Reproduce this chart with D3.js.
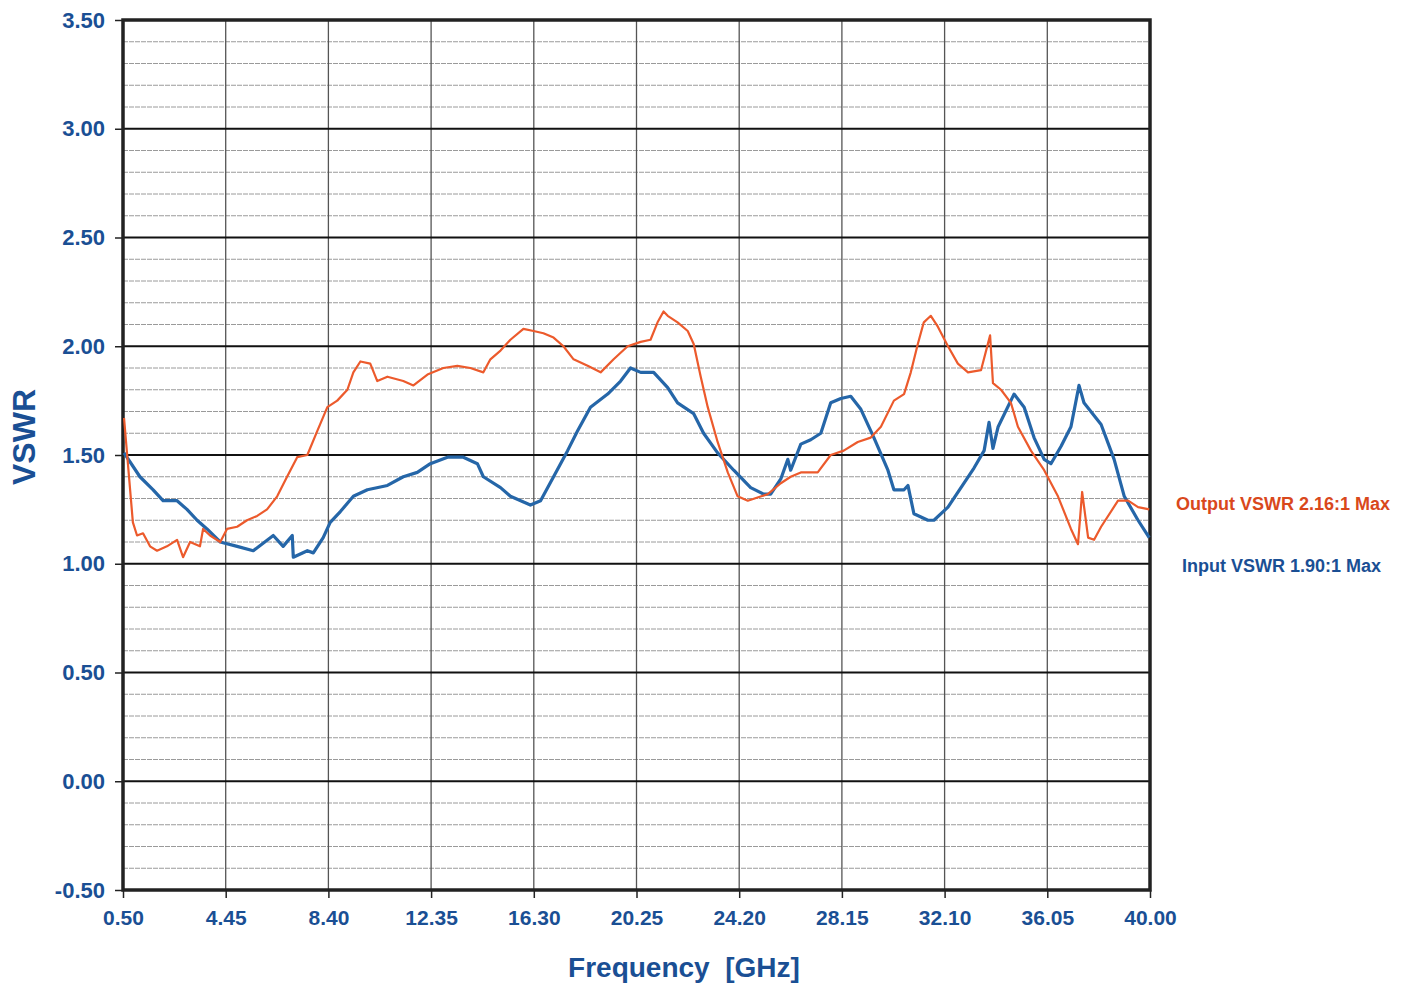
<!DOCTYPE html>
<html>
<head>
<meta charset="utf-8">
<script src="https://cdn.jsdelivr.net/npm/d3@7"></script>
<style>
  body { margin: 0; background: #fff; }
  text { font-family: "Liberation Sans", Arial, sans-serif; font-weight: bold; }
</style>
</head>
<body>
<div class="chart"></div>
<script>
// x tick labels (GHz) and y ticks
const xTicks = [0.5, 4.45, 8.4, 12.35, 16.3, 20.25, 24.2, 28.15, 32.1, 36.05, 40.0];
const yTicks = [-0.5, 0, 0.5, 1.0, 1.5, 2.0, 2.5, 3.0, 3.5];

// Input VSWR (blue)
const inputFreq = [0.54, 1.15, 1.66, 2.04, 2.58, 2.96, 3.35, 3.73, 4.24, 4.89, 5.51, 6.28, 6.66, 7.01, 7.05, 7.59, 7.82, 8.20, 8.47, 8.86, 9.36, 9.90, 10.67, 11.28, 11.82, 12.32, 12.98, 13.59, 14.13, 14.36, 15.02, 15.40, 16.17, 16.56, 17.06, 17.60, 17.98, 18.48, 19.14, 19.64, 20.02, 20.41, 20.91, 21.45, 21.83, 22.45, 22.83, 23.37, 23.99, 24.64, 25.14, 25.41, 25.80, 26.07, 26.18, 26.57, 26.95, 27.34, 27.72, 28.11, 28.49, 28.88, 29.38, 29.92, 30.15, 30.54, 30.69, 30.92, 31.46, 31.69, 32.23, 32.73, 33.23, 33.62, 33.81, 33.96, 34.16, 34.77, 35.16, 35.54, 35.93, 36.19, 36.58, 36.96, 37.27, 37.46, 38.12, 38.62, 39.01, 39.54, 39.97];
const inputVswr = [1.51, 1.40, 1.34, 1.29, 1.29, 1.25, 1.20, 1.16, 1.10, 1.08, 1.06, 1.13, 1.08, 1.13, 1.03, 1.06, 1.05, 1.12, 1.19, 1.24, 1.31, 1.34, 1.36, 1.40, 1.42, 1.46, 1.49, 1.49, 1.46, 1.40, 1.35, 1.31, 1.27, 1.29, 1.40, 1.52, 1.61, 1.72, 1.78, 1.84, 1.90, 1.88, 1.88, 1.81, 1.74, 1.69, 1.60, 1.51, 1.43, 1.35, 1.32, 1.32, 1.39, 1.48, 1.43, 1.55, 1.57, 1.60, 1.74, 1.76, 1.77, 1.71, 1.58, 1.43, 1.34, 1.34, 1.36, 1.23, 1.20, 1.20, 1.26, 1.35, 1.44, 1.52, 1.65, 1.53, 1.63, 1.78, 1.72, 1.58, 1.48, 1.46, 1.54, 1.63, 1.82, 1.74, 1.64, 1.48, 1.31, 1.20, 1.12];

// Output VSWR (orange)
const outputFreq = [0.54, 0.88, 1.04, 1.27, 1.54, 1.81, 2.19, 2.58, 2.81, 3.08, 3.46, 3.58, 3.85, 4.24, 4.50, 4.89, 5.27, 5.66, 6.04, 6.43, 6.81, 7.20, 7.59, 7.97, 8.36, 8.74, 9.13, 9.36, 9.63, 10.01, 10.28, 10.67, 11.28, 11.67, 12.21, 12.82, 13.36, 13.86, 14.36, 14.63, 15.02, 15.40, 15.90, 16.29, 16.67, 17.06, 17.44, 17.83, 18.37, 18.87, 19.37, 19.91, 20.41, 20.79, 21.06, 21.29, 21.45, 21.83, 22.22, 22.45, 22.72, 22.99, 23.37, 23.76, 24.14, 24.53, 25.30, 25.80, 26.18, 26.57, 27.22, 27.72, 28.22, 28.76, 29.26, 29.65, 30.15, 30.54, 30.80, 31.07, 31.30, 31.57, 31.84, 32.23, 32.61, 33.00, 33.50, 33.85, 33.96, 34.27, 34.65, 34.92, 35.42, 35.93, 36.46, 36.96, 37.23, 37.39, 37.62, 37.85, 38.12, 38.77, 39.16, 39.54, 39.97];
const outputVswr = [1.67, 1.19, 1.13, 1.14, 1.08, 1.06, 1.08, 1.11, 1.03, 1.10, 1.08, 1.16, 1.13, 1.10, 1.16, 1.17, 1.20, 1.22, 1.25, 1.31, 1.40, 1.49, 1.50, 1.61, 1.72, 1.75, 1.80, 1.88, 1.93, 1.92, 1.84, 1.86, 1.84, 1.82, 1.87, 1.90, 1.91, 1.90, 1.88, 1.94, 1.98, 2.03, 2.08, 2.07, 2.06, 2.04, 2.00, 1.94, 1.91, 1.88, 1.94, 2.00, 2.02, 2.03, 2.11, 2.16, 2.14, 2.11, 2.07, 2.01, 1.86, 1.72, 1.56, 1.42, 1.31, 1.29, 1.32, 1.37, 1.40, 1.42, 1.42, 1.50, 1.52, 1.56, 1.58, 1.63, 1.75, 1.78, 1.88, 2.01, 2.11, 2.14, 2.09, 2.00, 1.92, 1.88, 1.89, 2.05, 1.83, 1.80, 1.74, 1.63, 1.52, 1.43, 1.31, 1.16, 1.09, 1.33, 1.12, 1.11, 1.17, 1.29, 1.29, 1.26, 1.25];

const seriesNames = ['Output VSWR 2.16:1 Max', 'Input VSWR 1.90:1 Max'];

const w = 1411, h = 985;
const padLeft = 123, padRight = 1150, padTop = 20, padBottom = 890;

const xScale = d3.scaleLinear().domain([0.5, 40]).range([padLeft, padRight]);
const yScale = d3.scaleLinear().domain([-0.5, 3.5]).range([padBottom, padTop]);

const svg = d3.select('div.chart')
  .append('svg')
  .attr('width', w)
  .attr('height', h);

// minor horizontal grid every 0.1
const minor = d3.range(-4, 35).map(i => i / 10)
  .filter(v => Math.round(v * 10) % 5 !== 0);
svg.append('g')
  .selectAll('line')
  .data(minor)
  .enter()
  .append('line')
  .attr('x1', padLeft).attr('x2', padRight)
  .attr('y1', d => yScale(d)).attr('y2', d => yScale(d))
  .attr('stroke', '#9a9a9a')
  .attr('stroke-width', 1)
  .attr('stroke-dasharray', '5,1');

// vertical grid at ticks
svg.append('g')
  .selectAll('line')
  .data(xTicks)
  .enter()
  .append('line')
  .attr('x1', d => xScale(d)).attr('x2', d => xScale(d))
  .attr('y1', padTop).attr('y2', padBottom)
  .attr('stroke', '#555')
  .attr('stroke-width', 1.3);

// major horizontal grid
svg.append('g')
  .selectAll('line')
  .data(yTicks)
  .enter()
  .append('line')
  .attr('x1', padLeft).attr('x2', padRight)
  .attr('y1', d => yScale(d)).attr('y2', d => yScale(d))
  .attr('stroke', '#111')
  .attr('stroke-width', 2);

// frame
svg.append('rect')
  .attr('x', padLeft).attr('y', padTop)
  .attr('width', padRight - padLeft).attr('height', padBottom - padTop)
  .attr('fill', 'none')
  .attr('stroke', '#222')
  .attr('stroke-width', 3.5);

// axes
const fmt = d => d.toFixed(2);
const xAxis = d3.axisBottom(xScale)
  .tickValues(xTicks)
  .tickSize(8)
  .tickFormat(fmt);
const gx = svg.append('g')
  .attr('transform', 'translate(0,' + padBottom + ')')
  .call(xAxis);
gx.select('.domain').remove();
gx.selectAll('line').attr('stroke', '#222').attr('stroke-width', 1.5);
gx.selectAll('text')
  .attr('dy', '1.15em')
  .attr('fill', '#1a4f94')
  .style('font-size', '21px');

const yAxis = d3.axisLeft(yScale)
  .tickValues(yTicks)
  .tickSize(8)
  .tickFormat(fmt);
const gy = svg.append('g')
  .attr('transform', 'translate(' + padLeft + ',0)')
  .call(yAxis);
gy.select('.domain').remove();
gy.selectAll('line').attr('stroke', '#222').attr('stroke-width', 1.5);
gy.selectAll('text')
  .attr('x', -18)
  .attr('fill', '#1a4f94')
  .style('font-size', '22px');

const line = d3.line()
  .x(d => xScale(d[0]))
  .y(d => yScale(d[1]));

svg.append('path')
  .datum(d3.zip(inputFreq, inputVswr))
  .attr('fill', 'none')
  .attr('stroke', '#2566a8')
  .attr('stroke-width', 3.2)
  .attr('stroke-linejoin', 'round')
  .attr('d', line);

svg.append('path')
  .datum(d3.zip(outputFreq, outputVswr))
  .attr('fill', 'none')
  .attr('stroke', '#ec5a2c')
  .attr('stroke-width', 2.2)
  .attr('stroke-linejoin', 'round')
  .attr('d', line);

// series labels at right
svg.append('text')
  .attr('x', 1176).attr('y', 510)
  .attr('fill', '#d9481c')
  .style('font-size', '18px')
  .text(seriesNames[0]);
svg.append('text')
  .attr('x', 1182).attr('y', 572)
  .attr('fill', '#1a4f94')
  .style('font-size', '18px')
  .text(seriesNames[1]);

// axis titles
svg.append('text')
  .attr('x', 684).attr('y', 977)
  .attr('text-anchor', 'middle')
  .attr('fill', '#1a4f94')
  .style('font-size', '28px')
  .style('white-space', 'pre')
  .text('Frequency  [GHz]');

svg.append('text')
  .attr('transform', 'translate(35,437) rotate(-90)')
  .attr('text-anchor', 'middle')
  .attr('fill', '#1a4f94')
  .style('font-size', '32px')
  .text('VSWR');
</script>
</body>
</html>
